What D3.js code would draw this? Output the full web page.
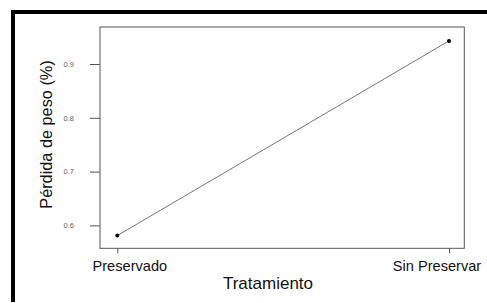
<!DOCTYPE html>
<html>
<head>
<meta charset="utf-8">
<script src="https://cdn.jsdelivr.net/npm/d3@7"></script>
<style>
  html, body { margin: 0; padding: 0; background: #fff; }
  svg { display: block; font-family: "Liberation Sans", Arial, sans-serif; }
</style>
</head>
<body>
<svg id="chart" width="487" height="303"></svg>
<script>
const categories = ["Preservado", "Sin Preservar"];
const values = [0.581, 0.943];
const yTicks = [0.6, 0.7, 0.8, 0.9];
const xTitle = "Tratamiento";
const yTitle = "Pérdida de peso (%)";

const svg = d3.select("#chart");
const box = { left: 100, right: 464.3, top: 27, bottom: 248.3 };

// outer black frame (left and top edges visible)
svg.append("path")
  .attr("d", `M13,302 L13,12 L490,12`)
  .attr("fill", "none")
  .attr("stroke", "#000")
  .attr("stroke-width", 4);

const x = d3.scalePoint().domain(categories).range([117.3, 449]);
const y = d3.scaleLinear().domain([0.5574, 0.9688]).range([box.bottom, box.top]);

// plot box
svg.append("rect")
  .attr("x", box.left).attr("y", box.top)
  .attr("width", box.right - box.left).attr("height", box.bottom - box.top)
  .attr("fill", "none").attr("stroke", "#555").attr("stroke-width", 1);

// y axis
const yAxis = svg.append("g")
  .attr("transform", `translate(${box.left},0)`)
  .call(d3.axisLeft(y).tickValues(yTicks).tickFormat(d3.format(".1f")).tickSize(10).tickPadding(16));
yAxis.select(".domain").remove();
yAxis.selectAll("line").attr("stroke", "#555");
yAxis.selectAll("text").attr("fill", "#666").style("font-size", "7.5px")
  .style("font-family", "'Liberation Sans', Arial, sans-serif");

// x axis
const xAxis = svg.append("g")
  .attr("transform", `translate(0,${box.bottom})`)
  .call(d3.axisBottom(x).tickSize(5).tickPadding(7));
xAxis.select(".domain").remove();
xAxis.selectAll("line").attr("stroke", "#555");
xAxis.selectAll("text").attr("fill", "#111").style("font-size", "14.6px")
  .style("font-family", "'Liberation Sans', Arial, sans-serif")
  .attr("text-anchor", (d, i) => i === 0 ? "start" : "end")
  .attr("dx", (d, i) => i === 0 ? -25.3 : 31.7);

// line
const data = categories.map((c, i) => ({ c, v: values[i] }));
svg.append("path")
  .datum(data)
  .attr("fill", "none")
  .attr("stroke", "#666")
  .attr("stroke-width", 0.9)
  .attr("d", d3.line().x(d => x(d.c)).y(d => y(d.v)));

svg.selectAll("circle.pt")
  .data(data).enter().append("circle")
  .attr("class", "pt")
  .attr("cx", d => x(d.c)).attr("cy", d => y(d.v))
  .attr("r", 2).attr("fill", "#000");

// titles
svg.append("text")
  .attr("x", 268).attr("y", 289)
  .attr("text-anchor", "middle")
  .style("font-size", "17px").attr("fill", "#111")
  .text(xTitle);

svg.append("text")
  .attr("transform", "translate(52,134.5) rotate(-90)")
  .attr("text-anchor", "middle")
  .style("font-size", "16.3px").attr("fill", "#111")
  .text(yTitle);
</script>
</body>
</html>
